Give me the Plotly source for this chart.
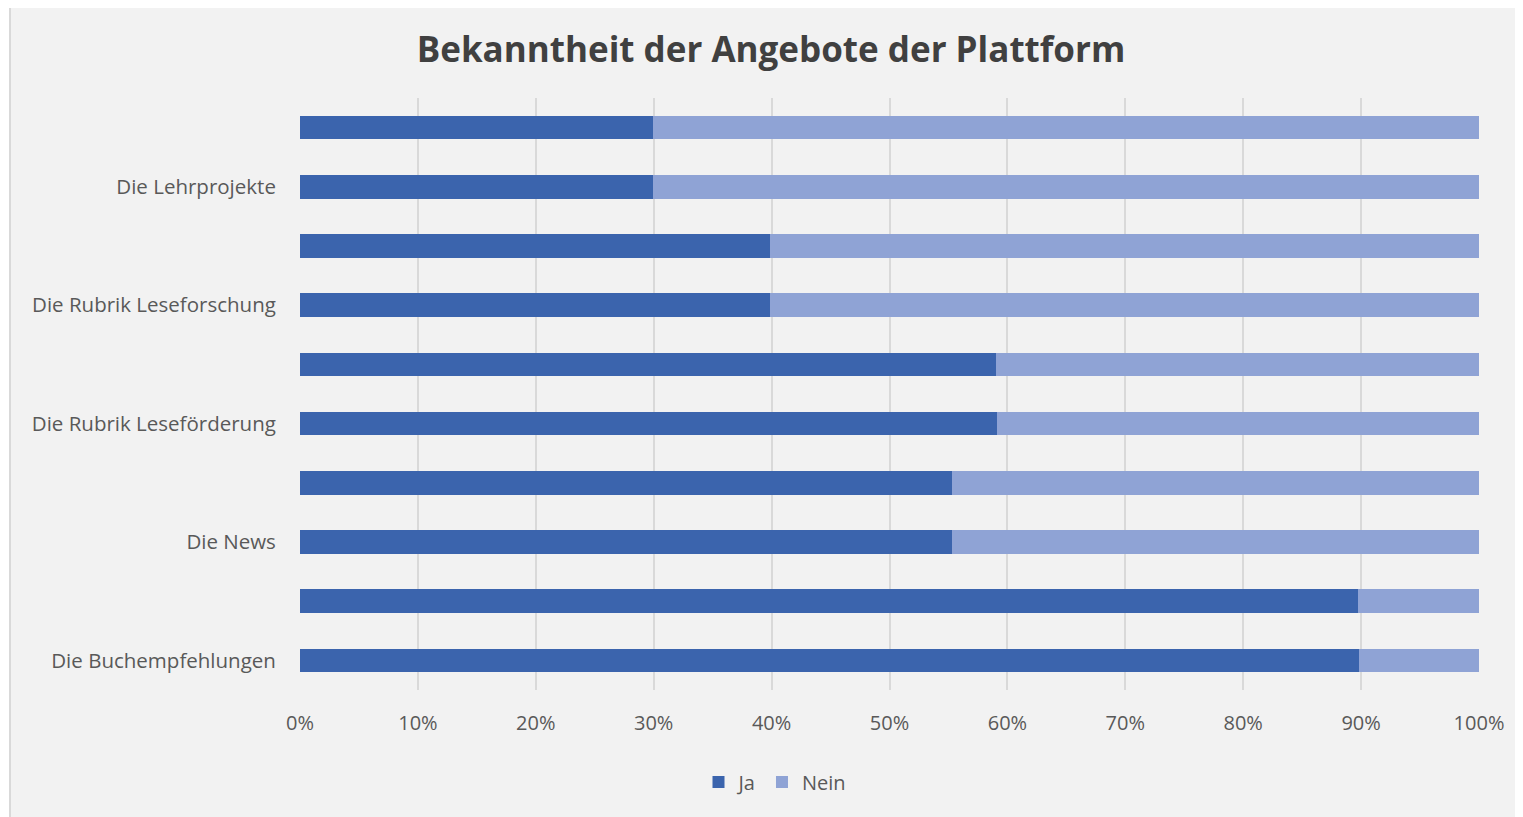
import plotly.graph_objects as go

categories = ["Die Buchempfehlungen", "", "Die News", "", "Die Rubrik Leseförderung", "",
              "Die Rubrik Leseforschung", "", "Die Lehrprojekte", ""]
ja = [89.8, 89.7, 55.3, 55.3, 59.1, 59.0, 39.9, 39.9, 29.9, 29.9]
nein = [round(100 - v, 1) for v in ja]
x_ticks = list(range(0, 101, 10))
x_tick_labels = [f"{v}%" for v in x_ticks]

pos = list(range(len(categories)))

fig = go.Figure()
fig.add_trace(go.Bar(y=pos, x=ja, name="Ja", orientation="h", marker=dict(color="#3B64AD", line=dict(width=0))))
fig.add_trace(go.Bar(y=pos, x=nein, name="Nein", orientation="h", marker=dict(color="#8FA3D5", line=dict(width=0))))

OFF = 8  # page body margin
W, H = 1523 - OFF, 817 - OFF
L, R, T = 300 - OFF, 44, 98 - OFF
pw = W - L - R
ph = 592
B = H - T - ph

def px2x(p):
    return (p - OFF - L) / pw

def py2y(p):
    return (OFF + T + ph - p) / ph

fig.add_shape(type="rect", xref="paper", yref="paper",
              x0=px2x(10), x1=px2x(1540), y0=py2y(840), y1=py2y(3),
              fillcolor="#F2F2F2", line=dict(color="#D9D9D9", width=2), layer="below")

fig.update_layout(
    width=W, height=H,
    margin=dict(l=L, r=R, t=T, b=B),
    barmode="stack", bargap=0.6,
    paper_bgcolor="white", plot_bgcolor="rgba(0,0,0,0)",
    font=dict(family="Open Sans", color="#595959"),
    title=dict(text="<b>Bekanntheit der Angebote der Plattform</b>", x=(771 - OFF) / W, xref="container",
               xanchor="center", y=1 - (50 - OFF) / H, yref="container", yanchor="middle",
               font=dict(size=35, color="#404040", family="Open Sans")),
    xaxis=dict(range=[0, 100], tickvals=x_ticks, ticktext=x_tick_labels, showgrid=True,
               gridcolor="#D9D9D9", gridwidth=2, zeroline=False, showline=False,
               ticks="outside", ticklen=15, tickcolor="rgba(0,0,0,0)",
               tickfont=dict(size=20, color="#595959")),
    yaxis=dict(range=[-0.5, 9.5], tickvals=pos, ticktext=categories, showgrid=False,
               zeroline=False, showline=False, ticks="outside", ticklen=19,
               tickcolor="rgba(0,0,0,0)", tickfont=dict(size=20.5, color="#595959")),
    legend=dict(orientation="h", x=px2x(775), xanchor="center", y=py2y(782), yanchor="middle",
                font=dict(size=20, color="#595959"), bgcolor="rgba(0,0,0,0)",
                itemwidth=30, traceorder="normal"),
    showlegend=True,
)

fig.write_html("out.html")
